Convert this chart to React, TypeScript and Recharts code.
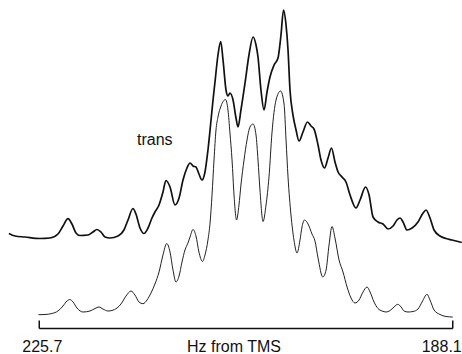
import React from "react";
import { LineChart, Line, XAxis, YAxis, ReferenceLine } from "recharts";

// [Hz from TMS, intensity above own baseline]
const transSpectrum: [number, number][] = [
  [228.46, 5.5], [227.91, 3], [227.0, 2], [225.64, 0.5], [224.73, 1], [224.0, 5], [223.54, 13], [223.09, 20.3], [222.73, 15], [222.36, 6],
  [222.0, 3.5], [221.27, 4], [220.82, 7], [220.45, 9.5], [220.09, 7], [219.72, 2], [219.27, 1], [218.54, 3], [218.0, 9], [217.63, 19],
  [217.18, 30.5], [216.91, 25], [216.54, 11], [216.18, 5.5], [215.81, 11], [215.45, 21], [215.18, 27], [214.81, 34], [214.45, 47], [214.18, 58.5],
  [213.81, 52], [213.36, 34], [212.99, 41], [212.63, 59], [212.27, 71], [211.99, 76], [211.72, 73], [211.45, 72], [211.18, 65], [210.9, 59],
  [210.63, 67], [210.36, 89], [210.08, 119], [209.9, 139], [209.72, 157], [209.45, 184], [209.2, 197.5], [208.99, 179], [208.72, 149], [208.54, 143],
  [208.36, 146], [208.08, 139], [207.81, 121], [207.63, 112], [207.36, 129], [206.99, 156], [206.63, 184], [206.26, 202], [205.99, 194], [205.81, 182],
  [205.54, 149], [205.26, 129], [204.99, 147], [204.72, 162], [204.35, 174], [203.99, 181], [203.72, 204], [203.49, 229], [203.26, 214], [203.08, 189],
  [202.9, 149], [202.63, 124], [202.35, 109], [202.08, 98], [201.72, 107], [201.31, 117], [200.99, 113], [200.72, 110], [200.35, 94], [200.08, 79],
  [199.76, 71], [199.44, 81], [199.13, 91], [198.81, 77], [198.53, 67], [198.17, 62], [197.81, 57], [197.44, 44], [196.9, 31], [196.53, 39],
  [196.03, 52], [195.71, 44], [195.35, 22], [194.9, 17], [194.44, 15], [193.99, 10], [193.53, 13], [193.17, 19], [192.89, 21], [192.62, 17],
  [192.26, 9], [191.8, 11], [191.26, 17], [190.8, 26], [190.53, 29], [190.17, 21], [189.8, 9], [189.26, 3], [188.71, 0.5], [188.17, -1],
  [187.8, -2], [187.28, -3.5],
];

const calcSpectrum: [number, number][] = [
  [225.77, 0.3], [225.18, 0.5], [224.55, 1.5], [224.0, 4], [223.54, 9], [223.18, 14], [222.91, 15.5], [222.63, 13], [222.27, 7], [221.72, 3],
  [221.09, 4], [220.63, 6.5], [220.27, 8], [219.91, 6], [219.45, 4], [219.09, 4.5], [218.63, 7], [218.27, 11], [217.81, 19], [217.36, 24],
  [217.0, 20], [216.63, 13], [216.27, 11.3], [215.9, 15], [215.54, 22], [215.18, 31], [214.81, 43], [214.45, 60], [214.11, 71.5], [213.81, 63],
  [213.54, 45], [213.27, 33], [212.99, 39], [212.72, 53], [212.45, 65], [212.18, 72], [211.99, 78], [211.72, 85.5], [211.45, 79], [211.18, 63],
  [210.86, 53.5], [210.63, 60], [210.36, 75], [210.17, 92], [209.99, 120], [209.81, 155], [209.63, 185], [209.45, 198], [209.17, 209], [208.77, 215.5],
  [208.54, 205], [208.36, 182], [208.17, 155], [207.99, 120], [207.76, 95], [207.54, 110], [207.36, 130], [207.08, 155], [206.81, 175], [206.54, 188],
  [206.26, 191], [205.99, 180], [205.81, 155], [205.63, 125], [205.35, 93.5], [205.08, 110], [204.81, 138], [204.54, 182], [204.17, 215], [203.76, 224],
  [203.44, 211], [203.26, 175], [203.08, 138], [202.81, 100], [202.54, 75], [202.26, 62], [201.99, 75], [201.81, 88], [201.58, 95], [201.26, 91],
  [200.9, 81], [200.63, 74], [200.35, 57], [199.92, 38], [199.62, 45], [199.35, 70], [199.08, 88.5], [198.81, 77], [198.44, 55], [198.08, 43],
  [197.71, 28], [197.35, 17], [196.99, 12], [196.62, 15], [196.26, 23], [195.9, 28], [195.62, 23], [195.26, 13], [194.9, 6.5], [194.53, 4],
  [194.17, 3], [193.8, 4.5], [193.44, 8], [193.1, 10.7], [192.8, 8], [192.53, 4], [192.17, 3], [191.71, 3.5], [191.26, 6], [190.89, 13],
  [190.44, 20.7], [190.17, 15], [189.8, 5], [189.26, 0.5], [188.71, -1.5], [188.1, -2],
];

const axisEnds = [225.7, 188.1];
const axisTitle = "Hz from TMS";
const traceLabel = "trans";

// vertical offsets of the two stacked traces
const TRANS_OFFSET = 90;
const CALC_OFFSET = 14;

const transData = transSpectrum.map(([hz, v]) => ({ hz, v: v + TRANS_OFFSET }));
const calcData = calcSpectrum.map(([hz, v]) => ({ hz, v: v + CALC_OFFSET }));

const FONT = "'Liberation Sans', Arial, sans-serif";

const EndTick = (props: any) => {
  const { x, y, payload } = props;
  const first = payload.value === axisEnds[0];
  return (
    <text
      x={first ? x + 3 : x + 9}
      y={y}
      dy={23}
      textAnchor={first ? "middle" : "end"}
      fontFamily={FONT}
      fontSize={16}
      fill="#111"
    >
      {payload.value}
    </text>
  );
};

export default function App() {
  return (
    <div style={{ position: "absolute", left: 0, top: 0, width: 462, height: 354, background: "#fff" }}>
      <LineChart width={462} height={354} margin={{ top: 0, right: 0, bottom: 0, left: 0 }}>
        <XAxis
          dataKey="hz"
          type="number"
          domain={[187.26, 229.27]}
          reversed
          allowDataOverflow
          ticks={axisEnds}
          interval={0}
          height={25}
          axisLine={false}
          tickLine={false}
          tickSize={0}
          tickMargin={0}
          tick={<EndTick />}
          label={{
            value: axisTitle,
            position: "insideBottom",
            offset: 2,
            dx: 3,
            fill: "#111",
            fontSize: 16,
            fontFamily: FONT,
          }}
        />
        <YAxis hide width={0} type="number" domain={[0, 329]} allowDataOverflow />
        <ReferenceLine
          segment={[{ x: axisEnds[0], y: 0.5 }, { x: axisEnds[1], y: 0.5 }]}
          stroke="#111"
          strokeWidth={1.5}
        />
        <ReferenceLine
          segment={[{ x: axisEnds[0], y: 0.5 }, { x: axisEnds[0], y: 8.5 }]}
          stroke="#111"
          strokeWidth={1.5}
        />
        <ReferenceLine
          segment={[{ x: axisEnds[1], y: 0.5 }, { x: axisEnds[1], y: 8.5 }]}
          stroke="#111"
          strokeWidth={1.5}
        />
        <Line
          data={calcData}
          dataKey="v"
          type="monotone"
          stroke="#222"
          strokeWidth={1}
          dot={false}
          activeDot={false}
          isAnimationActive={false}
        />
        <Line
          data={transData}
          dataKey="v"
          type="monotone"
          stroke="#111"
          strokeWidth={1.7}
          dot={false}
          activeDot={false}
          isAnimationActive={false}
        />
      </LineChart>
      <div
        style={{
          position: "absolute",
          left: 137,
          top: 131.5,
          fontFamily: FONT,
          fontSize: 16,
          lineHeight: "16px",
          color: "#111",
        }}
      >
        {traceLabel}
      </div>
    </div>
  );
}
